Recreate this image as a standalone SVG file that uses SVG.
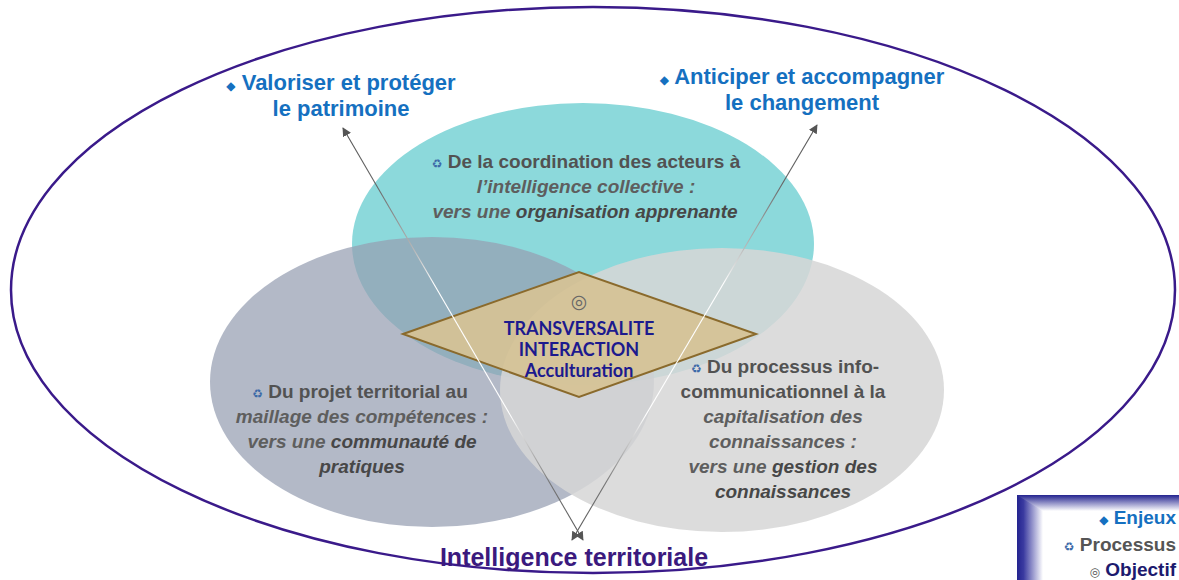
<svg xmlns="http://www.w3.org/2000/svg" width="1179" height="580" viewBox="0 0 1179 580">
<style>
.blue{font-family:"Liberation Sans",Arial,sans-serif;font-weight:bold;font-size:22px;fill:#1570c0;text-anchor:middle}
.body{font-family:"Liberation Sans",Arial,sans-serif;font-weight:bold;font-size:19px;fill:#525252;text-anchor:middle}
.it{font-style:italic;fill:#5e5e5e}
.em{font-style:italic;fill:#474747}
.ico{font-family:"DejaVu Sans",sans-serif;font-size:12px;fill:#3d6aa8;font-weight:normal;font-style:normal}
.bul{font-family:"DejaVu Sans",sans-serif;font-size:12px;font-weight:normal}
.dia{font-family:Lato,"Liberation Sans",sans-serif;font-weight:bold;font-size:18px;fill:#1c1a8e;text-anchor:middle}
.conn{fill:none;stroke-width:1.1;marker-start:url(#ah);marker-end:url(#ah)}
.leg{font-family:"Liberation Sans",Arial,sans-serif;font-weight:bold;font-size:19px;text-anchor:end}
</style>
<defs>
<marker id="ah" viewBox="0 0 10 10" refX="9" refY="5" markerWidth="9" markerHeight="9" markerUnits="userSpaceOnUse" orient="auto-start-reverse">
<path d="M0,0 L10,5 L0,10 Z" fill="#555"/>
</marker>
<linearGradient id="gA" gradientUnits="userSpaceOnUse" x1="343" y1="128" x2="583" y2="540">
<stop offset="0" stop-color="#555"/><stop offset="0.14" stop-color="#666"/><stop offset="0.3" stop-color="#bbb"/><stop offset="0.38" stop-color="#fff"/><stop offset="0.7" stop-color="#fff"/><stop offset="0.86" stop-color="#777"/><stop offset="1" stop-color="#555"/>
</linearGradient>
<linearGradient id="gB" gradientUnits="userSpaceOnUse" x1="817" y1="125" x2="572" y2="540">
<stop offset="0" stop-color="#555"/><stop offset="0.14" stop-color="#666"/><stop offset="0.3" stop-color="#bbb"/><stop offset="0.38" stop-color="#fff"/><stop offset="0.7" stop-color="#fff"/><stop offset="0.86" stop-color="#777"/><stop offset="1" stop-color="#555"/>
</linearGradient>
<linearGradient id="lgL" x1="0" y1="0" x2="1" y2="0"><stop offset="0" stop-color="#23238f"/><stop offset="0.25" stop-color="#3a3aa0"/><stop offset="1" stop-color="#fff"/></linearGradient>
<linearGradient id="lgT" x1="0" y1="0" x2="0" y2="1"><stop offset="0" stop-color="#23238f"/><stop offset="1" stop-color="#fff"/></linearGradient>
</defs>
<rect width="1179" height="580" fill="#fff"/>
<g id="outer">
<ellipse cx="593" cy="290" rx="582" ry="283" fill="none" stroke="#3a1a8a" stroke-width="2.5"/>
</g>
<g id="coordination">
<ellipse cx="583" cy="244" rx="231" ry="141" fill="#8cd9db"/>
</g>
<g id="projet">
<ellipse cx="432" cy="382" rx="222" ry="145" fill="#959eb1" fill-opacity="0.72"/>
</g>
<g id="processus">
<ellipse cx="722" cy="390" rx="222" ry="142" fill="#d6d6d6" fill-opacity="0.86"/>
</g>
<g id="objectif">
<polygon points="403,334 579,272 756,334 579,397" fill="#d6c295" fill-opacity="0.92" stroke="#8a6a2c" stroke-width="2"/>
<text x="579" y="308" font-family="DejaVu Sans,sans-serif" font-size="19" fill="#666" text-anchor="middle">◎</text>
<text class="dia" x="579" y="335">TRANSVERSALITE</text>
<text class="dia" x="579" y="356">INTERACTION</text>
<text class="dia" x="579" y="377">Acculturation</text>
</g>
<g id="connectors">
<line class="conn" x1="583" y1="540" x2="343" y2="128" stroke="url(#gA)"/>
<line class="conn" x1="572" y1="540" x2="817" y2="125" stroke="url(#gB)"/>
</g>
<g id="coordination-text">
<text class="body" x="586" y="168"><tspan class="ico">♻</tspan> De la coordination des acteurs à</text>
<text class="body" x="586" y="193"><tspan class="it">l’intelligence collective :</tspan></text>
<text class="body" x="585" y="218"><tspan class="it">vers une </tspan><tspan class="em">organisation apprenante</tspan></text>
</g>
<g id="projet-text">
<text class="body" x="360" y="398"><tspan class="ico">♻</tspan> Du projet territorial au</text>
<text class="body" x="362" y="423"><tspan class="it">maillage des compétences :</tspan></text>
<text class="body" x="362" y="448"><tspan class="it">vers une </tspan><tspan class="em">communauté de</tspan></text>
<text class="body" x="362" y="473"><tspan class="em">pratiques</tspan></text>
</g>
<g id="processus-text">
<text class="body" x="785" y="373"><tspan class="ico">♻</tspan> Du processus info-</text>
<text class="body" x="783" y="398">communicationnel à la</text>
<text class="body" x="783" y="423"><tspan class="it">capitalisation des</tspan></text>
<text class="body" x="783" y="448"><tspan class="it">connaissances :</tspan></text>
<text class="body" x="783" y="473"><tspan class="it">vers une </tspan><tspan class="em">gestion des</tspan></text>
<text class="body" x="783" y="498"><tspan class="em">connaissances</tspan></text>
</g>
<g id="enjeu-patrimoine">
<text class="blue" x="341" y="90"><tspan class="bul">◆</tspan> Valoriser et protéger</text>
<text class="blue" x="341" y="116">le patrimoine</text>
</g>
<g id="enjeu-changement">
<text class="blue" x="802" y="84"><tspan class="bul">◆</tspan> Anticiper et accompagner</text>
<text class="blue" x="802" y="110">le changement</text>
</g>
<g id="titre">
<text x="574" y="566" font-family="Liberation Sans,Arial,sans-serif" font-weight="bold" font-size="25" fill="#3b1a7e" text-anchor="middle">Intelligence territoriale</text>
</g>
<g id="legende">
<rect x="1017" y="495" width="162" height="85" fill="#fff"/>
<rect x="1017" y="495" width="26" height="85" fill="url(#lgL)"/>
<polygon points="1017,495 1179,495 1179,511 1043,511" fill="url(#lgT)"/>
<text class="leg" x="1176" y="524" fill="#1570c0"><tspan class="bul">◆</tspan> Enjeux</text>
<text class="leg" x="1176" y="551" fill="#555"><tspan class="ico">♻</tspan> Processus</text>
<text class="leg" x="1176" y="576" fill="#1c1a6e"><tspan class="bul" fill="#555">◎</tspan> Objectif</text>
</g>
</svg>
